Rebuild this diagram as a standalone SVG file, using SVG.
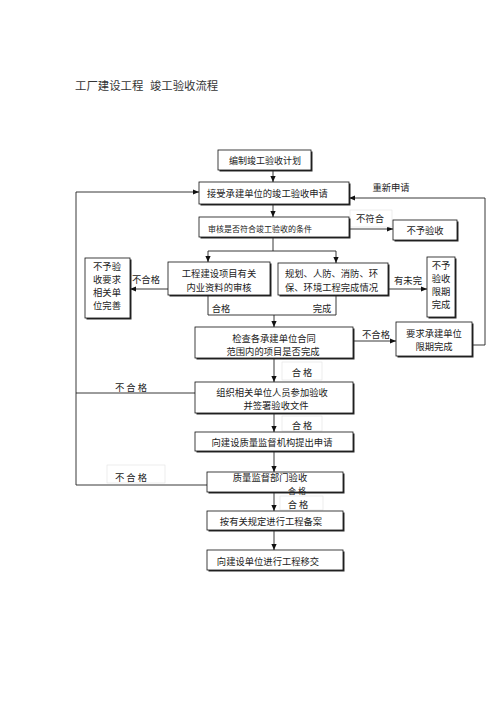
<svg xmlns="http://www.w3.org/2000/svg" width="500" height="708" viewBox="0 0 500 708">
<style>
.sh{fill:#2a2a2a}
.box{fill:#fff;stroke:#111;stroke-width:0.8}
.t{font-family:"Noto Sans CJK SC","Noto Sans CJK TC",sans-serif;font-size:9.3px;fill:#222;text-anchor:middle;dominant-baseline:central}
.s{text-anchor:start}
.ln{stroke:#222;stroke-width:0.9;fill:none}
.lb{fill:#fff;stroke:#e2e2e2;stroke-width:0.6}
</style>
<defs>
<marker id="ar" markerWidth="6" markerHeight="6" refX="6" refY="3" orient="auto" markerUnits="userSpaceOnUse">
<path d="M0,0.4 L6,3 L0,5.6 z" fill="#111"/>
</marker>
</defs>
<rect width="500" height="708" fill="#fff"/>
<text class="t s" x="75" y="85" style="font-size:11.4px;word-spacing:4px;fill:#333">工厂建设工程 竣工验收流程</text>

<g id="connectors">
<path class="ln" marker-end="url(#ar)" d="M273,170 V182"/>
<path class="ln" marker-end="url(#ar)" d="M273,204 V217"/>
<path class="ln" marker-end="url(#ar)" d="M349,229 H393"/>
<path class="ln" d="M273,237 V251 M208,251 H336"/>
<path class="ln" marker-end="url(#ar)" d="M208,251 V262"/>
<path class="ln" marker-end="url(#ar)" d="M336,251 V263"/>
<path class="ln" marker-end="url(#ar)" d="M168,289 H130"/>
<path class="ln" marker-end="url(#ar)" d="M388,289 H427"/>
<path class="ln" d="M208,295 V315 H336 V295"/>
<path class="ln" marker-end="url(#ar)" d="M274,315 V327"/>
<path class="ln" marker-end="url(#ar)" d="M353,341 H396"/>
<path class="ln" marker-end="url(#ar)" d="M472,345 H485 V198 H349"/>
<path class="ln" marker-end="url(#ar)" d="M274,358 V382"/>
<path class="ln" marker-end="url(#ar)" d="M274,413 V432"/>
<path class="ln" marker-end="url(#ar)" d="M274,451 V472"/>
<path class="ln" marker-end="url(#ar)" d="M274,492 V511"/>
<path class="ln" marker-end="url(#ar)" d="M274,530 V550"/>
<path class="ln" marker-end="url(#ar)" d="M207,485 H76 V192 H199"/>
<path class="ln" d="M195,393 H76"/>
</g>

<g id="labels">
<rect class="lb" x="350" y="210" width="42" height="17"/>
<text class="t" x="370" y="218">不符合</text>
<text class="t" x="391" y="187">重新申请</text>
<text class="t" x="146" y="279">不合格</text>
<text class="t" x="408" y="280">有未完</text>
<text class="t" x="221" y="308">合格</text>
<text class="t" x="322" y="308">完成</text>
<text class="t" x="376" y="334">不合格</text>
<rect class="lb" x="282" y="362" width="40" height="18"/>
<text class="t" x="302" y="372">合 格</text>
<rect class="lb" x="282" y="416" width="40" height="15"/>
<text class="t" x="302" y="425">合 格</text>
<text class="t" x="131" y="387">不 合 格</text>
<rect class="lb" x="107" y="465" width="58" height="18"/>
<text class="t" x="131" y="477">不 合 格</text>
<rect class="lb" x="280" y="496" width="43" height="14"/>
<text class="t" x="298" y="503.5">合 格</text>
</g>

<g id="n1"><rect class="sh" x="219.5" y="151.5" width="93" height="20"/><rect class="box" x="218" y="150" width="93" height="20"/><text class="t" x="265" y="160" style="font-size:9px">编制竣工验收计划</text></g>
<g id="n2"><rect class="sh" x="200.5" y="183.5" width="150" height="22"/><rect class="box" x="199" y="182" width="150" height="22"/><text class="t s" x="207" y="193">接受承建单位的竣工验收申请</text></g>
<g id="n3"><rect class="sh" x="200.5" y="218.5" width="150" height="20"/><rect class="box" x="199" y="217" width="150" height="20"/><text class="t s" x="208" y="228" style="font-size:8px">审核是否符合竣工验收的条件</text></g>
<g id="n4"><rect class="sh" x="394.5" y="221.5" width="64" height="20"/><rect class="box" x="393" y="220" width="64" height="20"/><text class="t" x="425" y="230">不予验收</text></g>
<g id="n5"><rect class="sh" x="169.5" y="263.5" width="102" height="33"/><rect class="box" x="168" y="262" width="102" height="33"/><text class="t" x="219" y="273">工程建设项目有关</text><text class="t" x="219" y="287">内业资料的审核</text></g>
<g id="n6"><rect class="sh" x="279.5" y="264.5" width="110" height="32"/><rect class="box" x="278" y="263" width="110" height="32"/><text class="t s" x="285" y="273">规划、人防、消防、环</text><text class="t s" x="285" y="287">保、环境工程完成情况</text></g>
<g id="n7"><rect class="sh" x="428.5" y="258.5" width="28" height="60"/><rect class="box" x="427" y="257" width="28" height="60"/><text class="t" x="441" y="265">不予</text><text class="t" x="441" y="278">验收</text><text class="t" x="441" y="291">限期</text><text class="t" x="441" y="304">完成</text></g>
<g id="n8"><rect class="sh" x="86.5" y="259.5" width="45" height="60"/><rect class="box" x="85" y="258" width="45" height="60"/><text class="t" x="107" y="266">不予验</text><text class="t" x="107" y="279">收要求</text><text class="t" x="107" y="292">相关单</text><text class="t" x="107" y="305">位完善</text></g>
<g id="n9"><rect class="sh" x="196.5" y="328.5" width="158" height="31"/><rect class="box" x="195" y="327" width="158" height="31"/><text class="t" x="274" y="338">检查各承建单位合同</text><text class="t" x="273" y="351">范围内的项目是否完成</text></g>
<g id="n10"><rect class="sh" x="397.5" y="323.5" width="76" height="34"/><rect class="box" x="396" y="322" width="76" height="34"/><text class="t" x="434" y="333">要求承建单位</text><text class="t" x="434" y="346">限期完成</text></g>
<g id="n11"><rect class="sh" x="196.5" y="383.5" width="158" height="31"/><rect class="box" x="195" y="382" width="158" height="31"/><text class="t" x="272" y="392">组织相关单位人员参加验收</text><text class="t" x="276" y="405">并签署验收文件</text></g>
<g id="n12"><rect class="sh" x="196.5" y="433.5" width="158" height="19"/><rect class="box" x="195" y="432" width="158" height="19"/><text class="t" x="272" y="442">向建设质量监督机构提出申请</text></g>
<g id="n13"><rect class="sh" x="208.5" y="473.5" width="136" height="20"/><rect class="box" x="207" y="472" width="136" height="20"/><text class="t" x="270" y="476.5">质量监督部门验收</text><text class="t" x="297" y="490" style="font-size:8px">合 格</text></g>
<g id="n14"><rect class="sh" x="208.5" y="512.5" width="136" height="19"/><rect class="box" x="207" y="511" width="136" height="19"/><text class="t" x="271" y="521">按有关规定进行工程备案</text></g>
<g id="n15"><rect class="sh" x="208.5" y="551.5" width="136" height="20"/><rect class="box" x="207" y="550" width="136" height="20"/><text class="t" x="268" y="561">向建设单位进行工程移交</text></g>
</svg>
